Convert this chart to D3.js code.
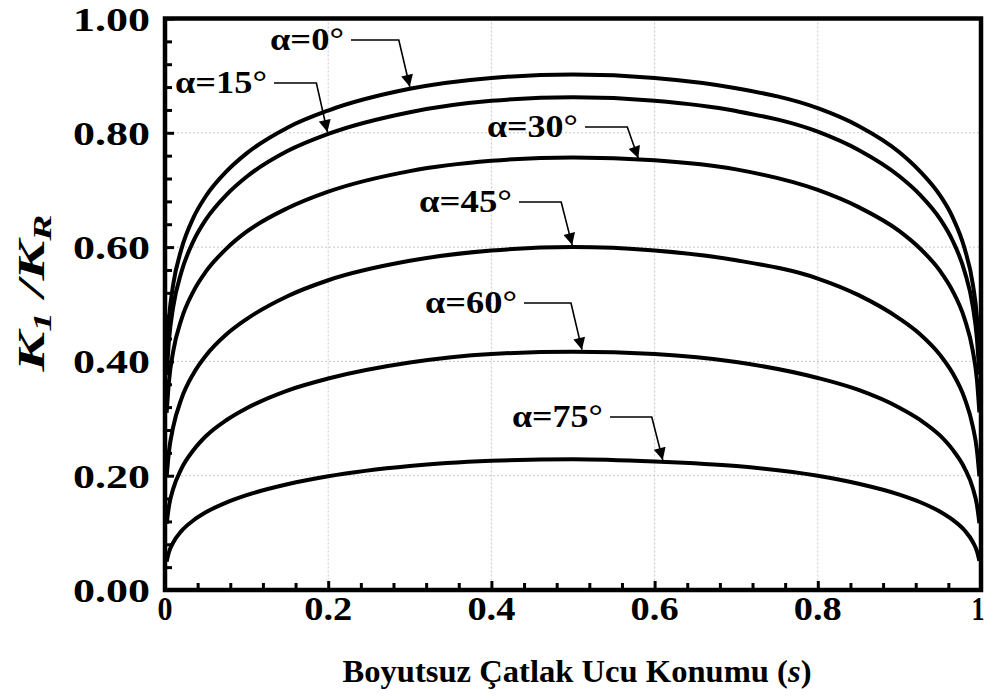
<!DOCTYPE html>
<html>
<head>
<meta charset="utf-8">
<script src="https://cdn.jsdelivr.net/npm/d3@7"></script>
<style>
  html, body { margin: 0; padding: 0; background: #fff; }
  svg { display: block; }
  text { font-family: "Liberation Serif", "Times New Roman", serif; font-weight: bold; fill: #000; }
</style>
</head>
<body>
<svg id="chart" width="989" height="699"></svg>
<script>
// ---- data ----
const sValues = [0.002, 0.005, 0.01, 0.02, 0.035, 0.05, 0.075, 0.1, 0.15, 0.2, 0.3, 0.4, 0.5,
                 0.6, 0.7, 0.8, 0.85, 0.9, 0.925, 0.95, 0.965, 0.98, 0.99, 0.995, 0.998];
const alpha0  = [0.411, 0.477, 0.534, 0.596, 0.652, 0.689, 0.732, 0.764, 0.809, 0.839, 0.877, 0.896, 0.902,
                 0.896, 0.878, 0.843, 0.812, 0.766, 0.733, 0.690, 0.653, 0.597, 0.535, 0.478, 0.412];
const alpha15 = [0.376, 0.439, 0.495, 0.556, 0.611, 0.648, 0.691, 0.723, 0.768, 0.798, 0.836, 0.856, 0.862,
                 0.856, 0.838, 0.802, 0.770, 0.724, 0.692, 0.649, 0.612, 0.557, 0.496, 0.440, 0.377];
const alpha30 = [0.310, 0.367, 0.417, 0.473, 0.523, 0.557, 0.597, 0.627, 0.668, 0.697, 0.733, 0.751, 0.757,
                 0.752, 0.736, 0.700, 0.670, 0.628, 0.598, 0.558, 0.524, 0.474, 0.418, 0.368, 0.311];
const alpha45 = [0.198, 0.244, 0.285, 0.334, 0.379, 0.410, 0.447, 0.474, 0.514, 0.542, 0.576, 0.594, 0.600,
                 0.594, 0.577, 0.545, 0.516, 0.475, 0.448, 0.411, 0.380, 0.335, 0.286, 0.245, 0.199];
const alpha60 = [0.116, 0.148, 0.177, 0.212, 0.245, 0.269, 0.297, 0.318, 0.349, 0.370, 0.398, 0.413, 0.417,
                 0.413, 0.399, 0.371, 0.350, 0.319, 0.298, 0.270, 0.246, 0.213, 0.178, 0.149, 0.117];
const alpha75 = [0.050, 0.067, 0.083, 0.103, 0.122, 0.136, 0.153, 0.166, 0.185, 0.199, 0.217, 0.226, 0.229,
                 0.225, 0.217, 0.200, 0.186, 0.167, 0.154, 0.137, 0.123, 0.104, 0.084, 0.068, 0.051];

const seriesNames = ["α=0°", "α=15°", "α=30°", "α=45°", "α=60°", "α=75°"];
const seriesValues = [alpha0, alpha15, alpha30, alpha45, alpha60, alpha75];
// arrow tips (s, K1/KR) of the annotations
const arrowS = [0.300, 0.199, 0.580, 0.499, 0.511, 0.610];
const arrowK = [0.877, 0.798, 0.752, 0.600, 0.417, 0.224];

const xTickValues = [0, 0.2, 0.4, 0.6, 0.8, 1];
const xTickLabels = ["0", "0.2", "0.4", "0.6", "0.8", "1"];
const yTickValues = [0, 0.2, 0.4, 0.6, 0.8, 1.0];
const yTickLabels = ["0.00", "0.20", "0.40", "0.60", "0.80", "1.00"];
const xTitle = "Boyutsuz Çatlak Ucu Konumu (";
const xTitleItalic = "s";

// ---- layout ----
const svg = d3.select("#chart");
const L = 165, R = 981, T = 18.5, B = 590;
const x = d3.scaleLinear().domain([0, 1]).range([L, R]);
const y = d3.scaleLinear().domain([0, 1]).range([B, T]);

// grid
const grid = svg.append("g");
grid.selectAll("line.gx").data(xTickValues.slice(1, -1)).enter().append("line")
  .attr("x1", d => x(d)).attr("x2", d => x(d)).attr("y1", T).attr("y2", B)
  .attr("stroke", "#c8c8c8").attr("stroke-width", 1).attr("stroke-dasharray", "2,2");
grid.selectAll("line.gy").data(yTickValues.slice(1, -1)).enter().append("line")
  .attr("x1", L).attr("x2", R).attr("y1", d => y(d)).attr("y2", d => y(d))
  .attr("stroke", "#c8c8c8").attr("stroke-width", 1).attr("stroke-dasharray", "2,2");

// curves
const line = d3.line().x(d => x(d[0])).y(d => y(d[1])).curve(d3.curveMonotoneX);
seriesValues.forEach(vals => {
  svg.append("path")
    .datum(sValues.map((s, i) => [s, vals[i]]))
    .attr("d", line)
    .attr("fill", "none").attr("stroke", "#000").attr("stroke-width", 4);
});

// axes with inside ticks
const xMinor = d3.range(0, 1.0001, 0.04);
const yMinor = d3.range(0, 1.0001, 0.04);
const xAxis = d3.axisBottom(x).tickValues(xMinor).tickSize(-7).tickFormat("");
const yAxis = d3.axisLeft(y).tickValues(yMinor).tickSize(-7).tickFormat("");
const gx = svg.append("g").attr("transform", `translate(0,${B})`).call(xAxis);
const gy = svg.append("g").attr("transform", `translate(${L},0)`).call(yAxis);
[gx, gy].forEach(g => {
  g.select(".domain").remove();
  g.selectAll(".tick line").attr("stroke", "#000").attr("stroke-width", 3);
});
gx.selectAll(".tick line").filter(d => Math.abs(d * 5 - Math.round(d * 5)) < 1e-6).attr("y2", -9);
gy.selectAll(".tick line").filter(d => Math.abs(d * 5 - Math.round(d * 5)) < 1e-6).attr("x2", 9);

// frame
svg.append("rect").attr("x", L).attr("y", T).attr("width", R - L).attr("height", B - T)
  .attr("fill", "none").attr("stroke", "#000").attr("stroke-width", 4.5);

// tick labels
const xLabelW = [15, 48, 48, 48, 48, 13];
const xLabelShift = [0, 0, 0, 0, 0, -3];
svg.selectAll("text.xt").data(xTickValues).enter().append("text")
  .attr("x", (d, i) => x(d) + xLabelShift[i]).attr("y", 620).attr("text-anchor", "middle")
  .attr("font-size", 34).attr("textLength", (d, i) => xLabelW[i]).attr("lengthAdjust", "spacingAndGlyphs")
  .text((d, i) => xTickLabels[i]);
svg.selectAll("text.yt").data(yTickValues).enter().append("text")
  .attr("x", 150).attr("y", d => y(d) + 12).attr("text-anchor", "end")
  .attr("font-size", 34).attr("textLength", 77).attr("lengthAdjust", "spacingAndGlyphs")
  .text((d, i) => yTickLabels[i]);

// x title
const xt = svg.append("text").attr("x", 577).attr("y", 682).attr("text-anchor", "middle")
  .attr("font-size", 31).attr("textLength", 469).attr("lengthAdjust", "spacingAndGlyphs");
xt.append("tspan").text(xTitle);
xt.append("tspan").attr("font-style", "italic").text(xTitleItalic);
xt.append("tspan").text(")");

// y title
const yt = svg.append("text").attr("transform", "translate(44,293) rotate(-90)")
  .attr("text-anchor", "middle").attr("font-size", 38).attr("font-style", "italic")
  .attr("textLength", 157).attr("lengthAdjust", "spacingAndGlyphs");
yt.append("tspan").text("K");
yt.append("tspan").attr("font-size", 25).attr("dy", 7).text("1");
yt.append("tspan").attr("dy", -7).text(" /K");
yt.append("tspan").attr("font-size", 25).attr("dy", 7).text("R");

// annotations
const defs = svg.append("defs");
defs.append("marker").attr("id", "arr").attr("viewBox", "0 0 10 10").attr("refX", 10).attr("refY", 5)
  .attr("markerWidth", 15).attr("markerHeight", 12).attr("markerUnits", "userSpaceOnUse").attr("orient", "auto")
  .append("path").attr("d", "M0,0 L10,5 L0,10 z").attr("fill", "#000");

const labelPos = [[270, 50], [175, 93], [487, 137], [419, 212], [425, 313], [512, 427]];
const labelWidths = [74, 92, 91, 93, 92, 91];
labelPos.forEach((p, i) => {
  svg.append("text").attr("x", p[0]).attr("y", p[1]).attr("font-size", 32)
    .attr("textLength", labelWidths[i]).attr("lengthAdjust", "spacingAndGlyphs")
    .text(seriesNames[i]);
  const ly = p[1] - 10;
  const x0 = p[0] + labelWidths[i] + 7;
  const tx = x(arrowS[i]), ty = y(arrowK[i]) - 2;
  const bendX = tx - 11;
  svg.append("path").attr("d", `M${x0},${ly} L${bendX},${ly} L${tx},${ty}`)
    .attr("fill", "none").attr("stroke", "#000").attr("stroke-width", 1.6)
    .attr("marker-end", "url(#arr)");
});
</script>
</body>
</html>
